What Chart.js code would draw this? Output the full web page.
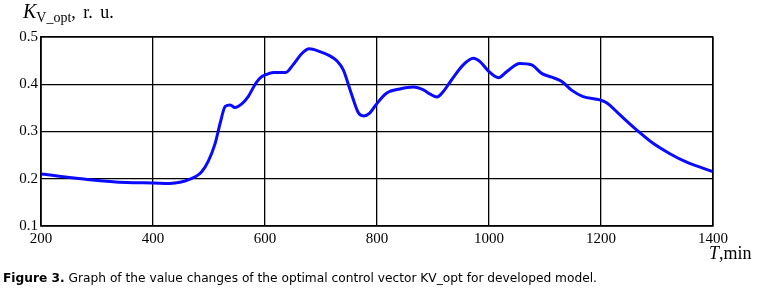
<!DOCTYPE html>
<html>
<head>
<meta charset="utf-8">
<script src="https://cdn.jsdelivr.net/npm/chart.js@4.4.0/dist/chart.umd.min.js"></script>
<style>
  html, body { margin: 0; padding: 0; background: #fff; }
  #wrap { position: relative; width: 769px; height: 298px; overflow: hidden; }
  #chart { position: absolute; left: 0; top: 0; }
  .serif { font-family: "Liberation Serif", "DejaVu Serif", serif; color: #000; position: absolute; white-space: nowrap; }
  #ytitle { left: 23px; top: 0px; font-size: 18px; }
  #ytitle i { font-size: 20px; }
  #ytitle sub { font-size: 14px; vertical-align: -4px; }
  #ytitle .ru { word-spacing: 3px; }
  #xtitle { left: 709px; top: 243px; font-size: 18px; }
  #caption { position: absolute; left: 3px; top: 270px; font-family: "DejaVu Sans Condensed", "DejaVu Sans", Verdana, sans-serif;
             font-size: 12.5px; color: #000; white-space: nowrap; transform-origin: 0 0; }
</style>
</head>
<body>
<div id="wrap">
  <canvas id="chart" width="769" height="298"></canvas>
  <div id="ytitle" class="serif"><i>K</i><sub>V_opt</sub><span class="ru">, r. u.</span></div>
  <div id="xtitle" class="serif"><i>T</i>,min</div>
  <div id="caption"><b>Figure 3.</b> Graph of the value changes of the optimal control vector KV_opt for developed model.</div>
</div>
<script>
// values
const timeMin = [200, 287, 353, 400, 430, 466, 487, 499, 511, 520, 529, 538, 546, 558, 570, 582, 591, 603, 615, 637,
  650, 665, 679, 698, 716, 728, 740, 752, 767, 776, 787, 799, 817, 841, 865, 883, 895, 907, 918, 933,
  954, 972, 984, 999, 1017, 1032, 1055, 1076, 1094, 1112, 1130, 1148, 1168, 1198, 1210, 1234, 1264, 1293, 1323, 1353,
  1383, 1400];
const kvOpt = [0.210, 0.198, 0.192, 0.191, 0.190, 0.199, 0.215, 0.238, 0.275, 0.318, 0.353, 0.356, 0.351, 0.358, 0.374, 0.399, 0.413, 0.421, 0.425, 0.425,
  0.441, 0.464, 0.475, 0.469, 0.460, 0.450, 0.430, 0.388, 0.339, 0.333, 0.339, 0.358, 0.381, 0.390, 0.394, 0.388, 0.379, 0.373, 0.384, 0.409,
  0.441, 0.455, 0.448, 0.428, 0.414, 0.427, 0.444, 0.441, 0.423, 0.415, 0.406, 0.387, 0.374, 0.367, 0.361, 0.335, 0.303, 0.275, 0.253, 0.235,
  0.222, 0.215];
const xTicks = [200, 400, 600, 800, 1000, 1200, 1400];
const yTicks = [0.1, 0.2, 0.3, 0.4, 0.5];

const points = timeMin.map((t, i) => ({ x: t, y: kvOpt[i] }));
const tickFont = { family: '"Liberation Serif", "DejaVu Serif", serif', size: 15 };

new Chart(document.getElementById('chart'), {
  type: 'line',
  data: {
    datasets: [{
      data: points,
      borderColor: '#0a0aff',
      borderWidth: 3,
      pointRadius: 0,
      cubicInterpolationMode: 'monotone',
      fill: false,
    }],
  },
  options: {
    responsive: false,
    animation: false,
    events: [],
    layout: { padding: { left: 0, right: 56, top: 37, bottom: 0 } },
    plugins: { legend: { display: false }, tooltip: { enabled: false } },
    scales: {
      x: {
        type: 'linear',
        min: xTicks[0],
        max: xTicks[xTicks.length - 1],
        afterBuildTicks: s => { s.ticks = xTicks.map(v => ({ value: v })); },
        afterFit: s => { s.height = 72; },
        grid: { color: '#000', lineWidth: 1.3, drawTicks: false },
        border: { color: '#000', width: 1.3 },
        ticks: { color: '#000', font: tickFont, padding: 4, maxRotation: 0, callback: v => String(v) },
      },
      y: {
        min: yTicks[0],
        max: yTicks[yTicks.length - 1],
        afterBuildTicks: s => { s.ticks = yTicks.map(v => ({ value: v })); },
        afterFit: s => { s.width = 41; },
        grid: { color: '#000', lineWidth: 1.3, drawTicks: false },
        border: { color: '#000', width: 1.3 },
        ticks: { color: '#000', font: tickFont, padding: 3, callback: v => v.toFixed(1) },
      },
    },
  },
  plugins: [{
    id: 'frame',
    afterDraw(chart) {
      const { ctx, chartArea: a } = chart;
      ctx.save();
      ctx.strokeStyle = '#000';
      ctx.lineWidth = 1.3;
      ctx.strokeRect(a.left, a.top, a.right - a.left, a.bottom - a.top);
      ctx.restore();
    },
  }],
});

// stretch caption to the width it has in the figure
const cap = document.getElementById('caption');
cap.style.transform = 'scaleX(' + (594 / cap.getBoundingClientRect().width) + ')';
</script>
</body>
</html>
